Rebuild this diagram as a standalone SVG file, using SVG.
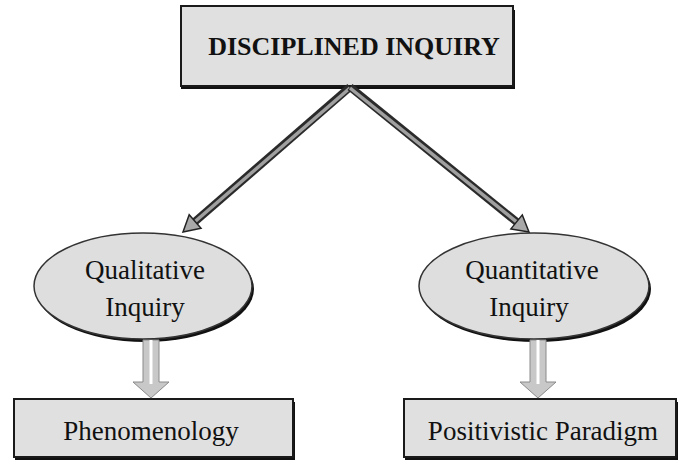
<svg xmlns="http://www.w3.org/2000/svg" width="679" height="467" viewBox="0 0 679 467">
<defs>
<style>
.box{fill:#e0e0e0;stroke:#1a1a1a;stroke-width:2}
.shadow{fill:#111}
.ell{fill:#dedede;stroke:#333;stroke-width:1.5}
.t{font-family:"Liberation Serif","Times New Roman",serif;font-size:27px;fill:#111;text-anchor:middle}
.tb{font-weight:bold;font-size:26px}
.ln{stroke:#2a2a2a;stroke-width:8;stroke-linecap:butt;fill:none}
.lni{stroke:#a0a0a0;stroke-width:3.5;fill:none}
.head{fill:#a8a8a8;stroke:#222;stroke-width:1.5;stroke-linejoin:miter}
.blk{fill:#c8c8c8;stroke:#8a8a8a;stroke-width:1}
</style>
</defs>
<rect x="0" y="0" width="679" height="467" fill="#ffffff"/>

<g id="disciplined-inquiry">
<rect class="shadow" x="181" y="10" width="334" height="79"/>
<rect class="box" x="181" y="6" width="332" height="80"/>
<text class="t tb" x="354" y="55">DISCIPLINED INQUIRY</text>
</g>

<g id="qualitative-inquiry">
<ellipse class="shadow" cx="145" cy="289" rx="109" ry="53"/>
<ellipse class="ell" cx="143" cy="286" rx="109" ry="53"/>
<text class="t" x="145" y="279">Qualitative</text>
<text class="t" x="145" y="316">Inquiry</text>
</g>

<g id="quantitative-inquiry">
<ellipse class="shadow" cx="536" cy="289" rx="115" ry="53"/>
<ellipse class="ell" cx="534" cy="286" rx="115" ry="53"/>
<text class="t" x="532" y="279">Quantitative</text>
<text class="t" x="529" y="316">Inquiry</text>
</g>

<g id="phenomenology">
<rect class="shadow" x="15" y="402" width="280" height="58"/>
<rect class="box" x="14" y="399" width="279" height="58"/>
<text class="t" x="151" y="440">Phenomenology</text>
</g>

<g id="positivistic-paradigm">
<rect class="shadow" x="405" y="402" width="273" height="58"/>
<rect class="box" x="404" y="399" width="272" height="58"/>
<text class="t" x="543" y="440">Positivistic Paradigm</text>
</g>

<g id="connectors">
<line class="ln" x1="350" y1="87" x2="195.1" y2="221.5"/>
<line class="lni" x1="350" y1="88" x2="195.1" y2="221.5"/>
<polygon class="head" points="183,232 201.0,228.3 189.2,214.7"/>
<line class="ln" x1="350" y1="87" x2="516.6" y2="221.9"/>
<line class="lni" x1="350" y1="88" x2="516.6" y2="221.9"/>
<polygon class="head" points="529,232 510.9,228.9 522.3,214.9"/>
<polygon class="blk" points="143,340 159,340 159,382 169,382 151,398 133,382 143,382"/>
<line x1="151" y1="340" x2="151" y2="384" stroke="#ffffff" stroke-width="3"/>
<polygon class="blk" points="530,340 546,340 546,382 556,382 538,398 520,382 530,382"/>
<line x1="538" y1="340" x2="538" y2="384" stroke="#ffffff" stroke-width="3"/>
</g>
</svg>
